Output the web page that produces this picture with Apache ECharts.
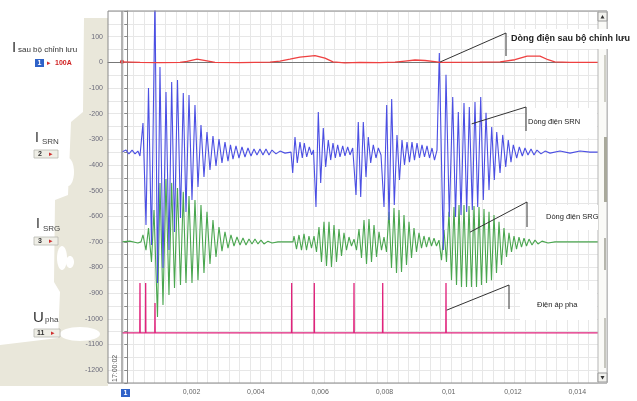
<!DOCTYPE html>
<html><head><meta charset="utf-8">
<script src="https://cdn.jsdelivr.net/npm/echarts@6/dist/echarts.min.js"></script>
<style>html,body{margin:0;padding:0;background:#fff}#c{width:637px;height:401px}</style>
</head><body><div id="c"></div>
<script>
// ---- data (time in ms, values in A/V units of the left axis) ----
const xTickValuesMs = [2, 4, 6, 8, 10, 12, 14];
const xTickLabels = ['0,002', '0,004', '0,006', '0,008', '0,01', '0,012', '0,014'];
const yTickValues = [100, 0, -100, -200, -300, -400, -500, -600, -700, -800, -900, -1000, -1100, -1200];

// I sau bộ chỉnh lưu (red)
const rectifier = [[-0.165,2],[0.4,0],[1.0,-1],[1.64,0],[1.86,4],[2.17,12],[2.48,6],[2.73,0],[3.5,-1],[4.44,1],
  [4.75,5],[5.06,12],[5.37,20],[5.84,26],[6.15,16],[6.4,2],[6.77,-2],[7.24,0],[7.86,-1],[8.33,1],[8.64,5],[8.95,9],
  [9.26,7],[9.57,3],[9.73,0],[10.04,0],[10.97,1],[11.6,2],[12.06,10],[12.44,24],[12.84,24],[13.09,10],[13.3,2],[13.77,0],[14.65,0]];

// I SRN (blue)
const srn = [[-0.165,-350],[-0.04,-342],[0.05,-357],[0.15,-342],[0.24,-357],[0.33,-346],
  [0.395,-365],[0.488,-237],[0.582,-634],[0.66,-100],[0.753,-712],[0.862,260],[0.94,-860],[1.017,-18],[1.111,-802],
  [1.204,-116],[1.297,-732],[1.381,-77],[1.469,-661],[1.562,-69],[1.655,-607],[1.742,-120],[1.826,-583],[1.92,-127],
  [2.013,-537],[2.106,-166],[2.2,-486],[2.293,-244],[2.386,-447],[2.48,-272],[2.573,-420],[2.666,-287],[2.76,-404],
  [2.853,-299],[2.946,-392],[3.04,-311],[3.133,-385],[3.211,-322],[3.289,-377],[3.382,-326],[3.475,-373],[3.569,-330],
  [3.662,-369],[3.755,-334],[3.849,-365],[3.942,-338],[4.035,-361],[4.128,-338],[4.222,-361],[4.315,-338],[4.409,-361],
  [4.502,-342],[4.627,-357],[4.751,-346],[4.907,-354],[5.093,-350],
  [5.146,-431],[5.218,-291],[5.289,-392],[5.373,-311],[5.445,-373],[5.507,-315],[5.582,-369],[5.663,-330],[5.737,-361],
  [5.793,-342],[5.871,-564],[5.943,-194],[6.017,-470],[6.098,-256],[6.173,-408],[6.254,-303],[6.328,-381],[6.4,-315],
  [6.472,-373],[6.546,-322],[6.618,-369],[6.702,-326],[6.773,-365],[6.857,-330],[6.929,-361],[7.013,-334],
  [7.116,-517],[7.187,-233],[7.262,-525],[7.343,-233],[7.427,-447],[7.498,-291],[7.573,-392],[7.654,-322],[7.738,-373],
  [7.81,-334],[7.894,-361],[7.987,-564],[8.071,-166],[8.143,-615],[8.226,-143],[8.307,-556],[8.391,-283],[8.469,-459],
  [8.547,-303],[8.625,-400],[8.703,-311],[8.78,-389],[8.858,-311],[8.936,-381],[9.014,-315],[9.091,-373],[9.169,-322],
  [9.247,-369],[9.325,-326],[9.403,-373],[9.481,-334],[9.558,-381],[9.636,-342],
  [9.708,36],[9.832,-732],[9.916,-49],[10.019,-603],[10.125,-135],[10.212,-603],[10.299,-194],[10.383,-595],[10.476,-159],
  [10.56,-583],[10.641,-174],[10.734,-576],[10.818,-155],[10.902,-564],[10.996,-135],[11.077,-537],[11.161,-197],
  [11.254,-498],[11.338,-252],[11.419,-459],[11.494,-272],[11.597,-431],[11.681,-283],[11.774,-408],[11.854,-303],
  [11.938,-389],[12.01,-322],[12.116,-373],[12.197,-330],[12.29,-365],[12.374,-334],[12.467,-361],[12.561,-338],
  [12.654,-361],[12.747,-342],[12.872,-357],[12.996,-346],[13.152,-354],[13.463,-346],[13.774,-354],[14.085,-346],
  [14.396,-350],[14.645,-350]];

// I SRG (green)
const srg = [[-0.165,-700],[0.08,-697],[0.33,-704],[0.426,-700],
  [0.488,-673],[0.582,-732],[0.66,-646],[0.753,-778],[0.831,-576],[0.94,-993],[1.017,-470],[1.111,-946],[1.204,-455],
  [1.297,-907],[1.381,-470],[1.469,-880],[1.562,-490],[1.655,-868],[1.742,-505],[1.826,-860],[1.92,-521],[2.013,-860],
  [2.106,-537],[2.2,-849],[2.293,-556],[2.386,-821],[2.48,-583],[2.573,-786],[2.666,-615],[2.76,-759],[2.853,-642],
  [2.946,-736],[3.04,-661],[3.133,-724],[3.226,-673],[3.32,-716],[3.413,-681],[3.507,-712],[3.6,-685],[3.693,-712],
  [3.786,-689],[3.88,-708],[3.973,-689],[4.066,-708],[4.16,-693],[4.253,-708],[4.378,-697],[4.502,-704],[4.689,-700],[5.156,-700],
  [5.187,-677],[5.265,-728],[5.342,-673],[5.42,-732],[5.498,-669],[5.576,-732],[5.653,-677],[5.731,-724],[5.809,-677],
  [5.887,-739],[5.964,-642],[6.042,-778],[6.12,-622],[6.198,-794],[6.276,-622],[6.353,-798],[6.431,-634],[6.509,-778],
  [6.587,-650],[6.665,-755],[6.742,-665],[6.82,-732],[6.898,-681],[6.976,-716],[7.054,-689],
  [7.131,-732],[7.209,-650],[7.287,-763],[7.365,-615],[7.443,-786],[7.52,-611],[7.598,-778],[7.676,-634],[7.754,-759],
  [7.832,-661],[7.909,-732],[7.987,-681],
  [8.065,-739],[8.143,-583],[8.22,-802],[8.298,-568],[8.376,-821],[8.454,-576],[8.532,-817],[8.609,-595],[8.687,-790],
  [8.765,-622],[8.843,-763],[8.92,-646],[8.998,-739],[9.076,-665],[9.154,-724],[9.231,-677],[9.309,-720],[9.387,-681],
  [9.465,-716],[9.543,-685],[9.62,-716],[9.698,-693],
  [9.776,-771],[9.854,-654],[9.931,-778],[10.009,-583],[10.087,-849],[10.165,-564],[10.243,-868],[10.321,-556],
  [10.398,-876],[10.476,-556],[10.554,-876],[10.632,-560],[10.709,-876],[10.787,-560],[10.865,-876],[10.943,-564],
  [11.02,-868],[11.098,-572],[11.176,-860],[11.254,-583],[11.331,-849],[11.409,-595],[11.487,-821],[11.565,-622],
  [11.643,-790],[11.72,-646],[11.798,-759],[11.876,-665],[11.954,-739],[12.032,-677],[12.11,-728],[12.187,-681],
  [12.265,-720],[12.343,-685],[12.421,-716],[12.498,-689],[12.592,-712],[12.685,-693],[12.778,-708],[12.903,-697],
  [13.09,-704],[13.307,-700],[14.645,-700]];

// U pha (pink): baseline and pulse peaks
const phaBaseline = -1055;
const phaRange = [-0.165, 14.645];
const phaPulses = [[0.395,-860],[0.572,-860],[0.862,-938],[5.115,-860],[5.818,-860],[7.054,-860],[7.947,-860],[9.916,-860]];

// ---- build ----
const pha = [[phaRange[0], phaBaseline]];
phaPulses.forEach(p => { pha.push([p[0]-0.006, phaBaseline], [p[0], p[1]], [p[0]+0.006, phaBaseline]); });
pha.push([phaRange[1], phaBaseline]);

const chart = echarts.init(document.getElementById('c'));
const FONT = '"Liberation Sans", Arial, sans-serif';
function line(data, color, w, z) {
  return {type:'line', xAxisIndex:0, yAxisIndex:0, data, showSymbol:false, smooth:false,
    lineStyle:{color, width:w}, z, silent:true, animation:false, clip:true};
}
const ySet = new Set(yTickValues);
chart.setOption({
  animation:false,
  backgroundColor:'#fff',
  textStyle:{fontFamily:FONT},
  grid:[{left:108, right:39, top:11, bottom:18},{left:123, right:39, top:11, bottom:18}],
  xAxis:[
    {type:'value', gridIndex:0, min:-0.6, max:14.645, interval:0.2,
     axisLine:{show:true, lineStyle:{color:'#777'}}, axisTick:{show:false}, splitLine:{show:false},
     axisLabel:{fontSize:7, color:'#666', margin:6, showMinLabel:false, showMaxLabel:false,
       formatter:v=>{const r=Math.round(v*10)/10; const i=xTickValuesMs.findIndex(t=>Math.abs(t-r)<1e-6); return i>=0?xTickLabels[i]:'';}}},
    {type:'value', gridIndex:1, min:0, max:44.9, interval:1, axisLine:{show:false}, axisTick:{show:false},
     axisLabel:{show:false}, splitLine:{show:true, lineStyle:{color:'#e7e7e7', width:1}}}
  ],
  yAxis:[
    {type:'value', gridIndex:0, min:-1250, max:200, interval:50,
     axisLine:{show:true, lineStyle:{color:'#888'}}, axisTick:{show:true, length:3, lineStyle:{color:'#888'}},
     splitLine:{show:true, lineStyle:{color:'#e7e7e7', width:1}},
     axisLabel:{fontSize:7, color:'#6b6b7b', margin:5, formatter:v=>ySet.has(Math.round(v))?String(Math.round(v)):''}},
    {type:'value', gridIndex:1, min:0, max:1, show:false}
  ],
  series:[
    line(pha, '#e0237c', 1.3, 3),
    line(srg, '#4aa64f', 1.1, 4),
    line(srn, '#4b4fe3', 1.1, 5),
    Object.assign(line(rectifier, '#ee4040', 1.3, 6), {markPoint:{symbol:'circle', symbolSize:4, silent:true,
      itemStyle:{color:'#e02020'}, label:{show:false}, data:[{coord:rectifier[0]}]}})
  ]
});

// ---- decorations ----
const g = [];
// beige panel left
g.push({type:'polygon', z:-10, shape:{points:[[86,18],[108,18],[108,386],[0,386],[0,345],[25,342],[58,338],[60,292],[54,282],[55,200],[68,195],[71,122],[83,112],[84,18]]}, style:{fill:'#e9e7da'}});
[[68,172,6,14],[62,258,5,12],[80,334,20,7],[70,262,4,6],[45,300,10,4]].forEach(b=>g.push({type:'ellipse', z:-9, shape:{cx:b[0], cy:b[1], rx:b[2], ry:b[3]}, style:{fill:'#fff'}}));
// plot frame & cursor
g.push({type:'rect', z:10, shape:{x:108, y:11, width:499, height:372}, style:{fill:null, stroke:'#8a8a8a', lineWidth:1}});
g.push({type:'line', z:10, shape:{x1:122, y1:11, x2:122, y2:383}, style:{stroke:'#9a9a9a', lineWidth:1.5}});
g.push({type:'text', z:11, x:119, y:382, rotation:Math.PI/2, style:{text:'17:00:02', fontSize:7, fill:'#555', fontFamily:FONT, textAlign:'left', textVerticalAlign:'bottom'}});
// scroll strip on the right
g.push({type:'rect', z:11, shape:{x:598, y:11, width:9, height:372}, style:{fill:'#fafaf7', stroke:'#b5b5b5', lineWidth:1}});
g.push({type:'rect', z:12, shape:{x:598, y:12, width:9, height:9}, style:{fill:'#f2f2ee', stroke:'#999'}});
g.push({type:'polygon', z:13, shape:{points:[[600.5,18.5],[604.5,18.5],[602.5,15]]}, style:{fill:'#333'}});
g.push({type:'rect', z:12, shape:{x:598, y:373, width:9, height:9}, style:{fill:'#f2f2ee', stroke:'#999'}});
g.push({type:'polygon', z:13, shape:{points:[[600.5,376],[604.5,376],[602.5,379.5]]}, style:{fill:'#333'}});
[[604,55,2,47,'#cfcfc6'],[604,137,3,65,'#a9a99b'],[604,238,2,32,'#b6b6ad'],[604,318,2,50,'#c6c6be']].forEach(b=>g.push({type:'rect', z:12, shape:{x:b[0],y:b[1],width:b[2],height:b[3]}, style:{fill:b[4]}}));
// bottom marker "1"
g.push({type:'rect', z:11, shape:{x:121, y:389, width:9, height:8}, style:{fill:'#2f62c8'}});
g.push({type:'text', z:12, x:125.5, y:393, style:{text:'1', fontSize:7, fill:'#fff', fontWeight:'bold', fontFamily:FONT, textAlign:'center', textVerticalAlign:'middle'}});
// channel labels
function txt(t, x, y, fs, color, extra) { g.push(Object.assign({type:'text', z:12, x, y, style:Object.assign({text:t, fontSize:fs, fill:color||'#333', fontFamily:FONT, textVerticalAlign:'middle'}, extra||{})})); }
function box(x, y, w, label, fill) {
  g.push({type:'rect', z:11, shape:{x, y, width:w, height:8}, style:{fill:fill||'#efeee6', stroke:'#b8b8b0', lineWidth:0.8}});
}
txt('I', 12, 48, 15, '#333');
txt('sau bộ chỉnh lưu', 18, 50, 8, '#333');
g.push({type:'rect', z:11, shape:{x:35, y:59, width:9, height:8}, style:{fill:'#2f62c8'}});
txt('1', 39.5, 63.5, 7, '#fff', {textAlign:'center', fontWeight:'bold'});
txt('▸', 47, 63, 7, '#d03030');
txt('100A', 55, 63.5, 7, '#d02020', {fontWeight:'bold'});
txt('I', 35, 138, 14, '#333'); txt('SRN', 42, 142, 8, '#444');
box(34, 150, 24); txt('2', 38, 154.5, 7, '#333', {fontWeight:'bold'}); txt('▸', 49, 154.5, 7, '#d03030');
txt('I', 36, 224, 14, '#333'); txt('SRG', 43, 229, 8, '#444');
box(34, 237, 24); txt('3', 38, 241.5, 7, '#333', {fontWeight:'bold'}); txt('▸', 49, 241.5, 7, '#d03030');
txt('U', 33, 318, 15, '#333'); txt('pha', 45, 320, 8, '#444');
box(34, 329, 26); txt('11', 37, 333.5, 7, '#333', {fontWeight:'bold'}); txt('▸', 51, 333.5, 7, '#d03030');

// callouts (anchors in data units)
const callouts = [
  {anchor:[9.73, 1],    elbow:[506,33], drop:56,  text:'Dòng điện sau bộ chỉnh lưu', tx:511, ty:39, fs:9, bold:true, bx:[509,29,128,20]},
  {anchor:[10.714,-240], elbow:[526,107], drop:131, text:'Dòng điện SRN', tx:528, ty:122, fs:7.5, bx:[527,108,70,30]},
  {anchor:[10.663,-662], elbow:[527,202], drop:227, text:'Dòng điện SRG', tx:546, ty:217, fs:7.5, bx:[536,205,62,25]},
  {anchor:[9.938,-966], elbow:[509,285], drop:309, text:'Điện áp pha', tx:537, ty:305, fs:7.5, bx:[520,290,77,30]}
];
callouts.forEach(c => {
  const p = chart.convertToPixel({xAxisIndex:0, yAxisIndex:0}, c.anchor);
  g.push({type:'rect', z:14, shape:{x:c.bx[0], y:c.bx[1], width:c.bx[2], height:c.bx[3]}, style:{fill:'#fff'}});
  g.push({type:'polyline', z:15, shape:{points:[p, c.elbow, [c.elbow[0], c.drop]]}, style:{stroke:'#333', lineWidth:1, fill:null}});
  g.push({type:'text', z:16, x:c.tx, y:c.ty, style:{text:c.text, fontSize:c.fs, fill:'#222', fontFamily:FONT, fontWeight:c.bold?'bold':'normal', textVerticalAlign:'middle'}});
});
chart.setOption({graphic:g});
</script></body></html>
